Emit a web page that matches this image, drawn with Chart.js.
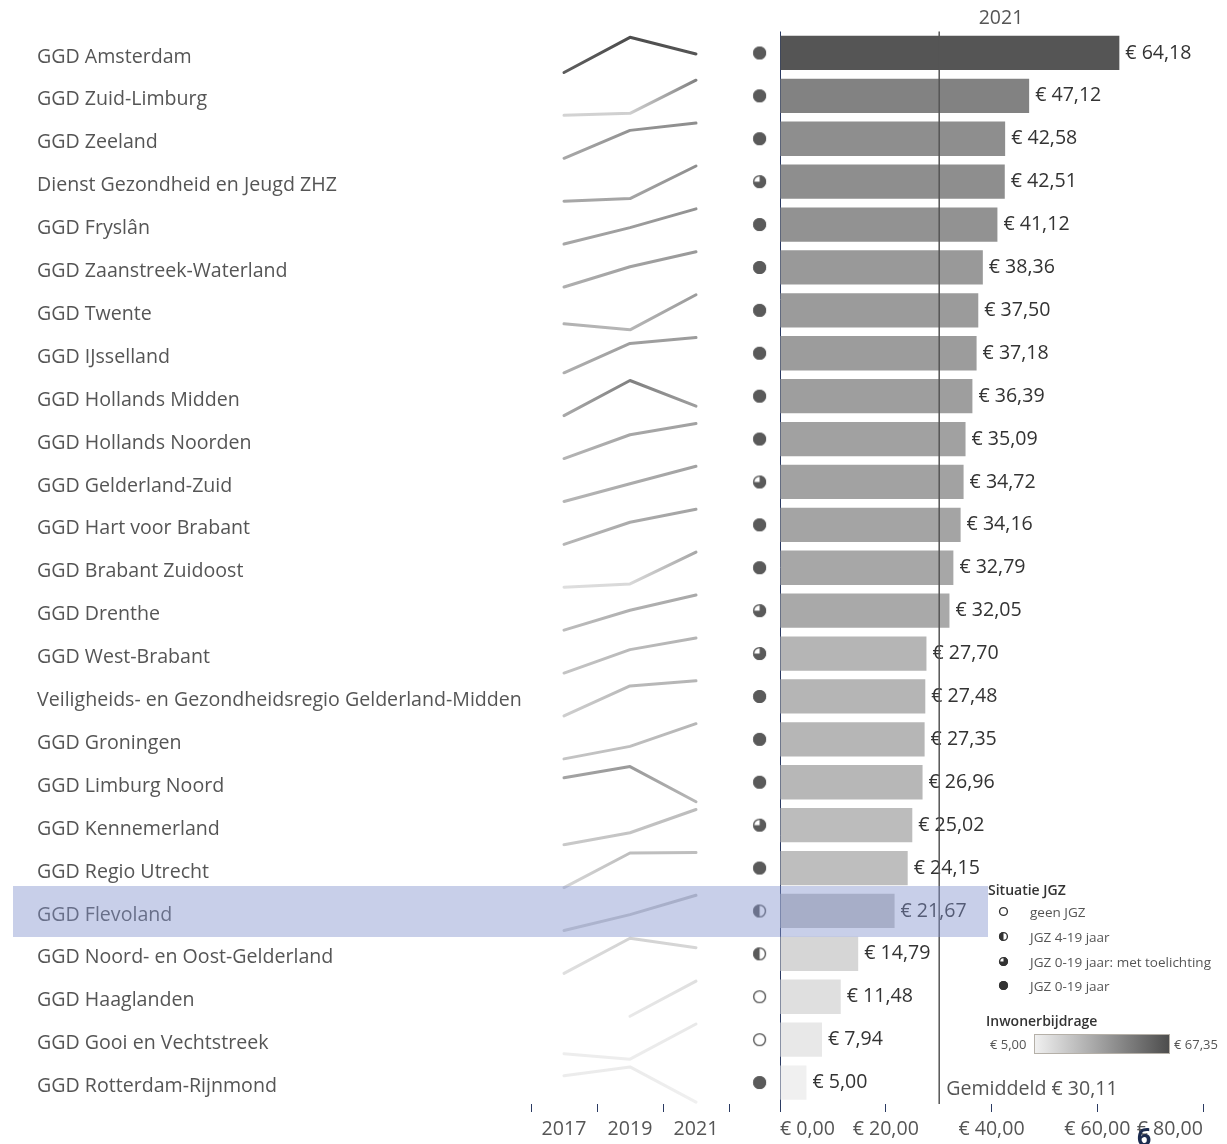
<!DOCTYPE html>
<html lang="nl">
<head>
<meta charset="utf-8">
<title>Inwonerbijdrage GGD 2021</title>
<script src="https://cdn.jsdelivr.net/npm/chart.js@4.4.1/dist/chart.umd.min.js"></script>
<style>
  html, body { margin:0; padding:0; background:#fff; overflow:hidden; }
  #wrap { position:relative; width:1227px; height:1144px; font-family:'Open Sans', sans-serif; color:#555; overflow:hidden; }
  #chart { position:absolute; left:0; top:0; }
  .abs { position:absolute; white-space:nowrap; }
  .lg-title { font-size:14px; font-weight:600; color:#333; line-height:18px; }
  .lg-item { font-size:13.5px; line-height:18px; color:#555; }
  .lg-item canvas { position:absolute; left:-33px; top:2px; }
  #highlight { background:rgba(130,146,205,0.44); }
</style>
</head>
<body>
<div id="wrap">
  <canvas id="chart" width="1227" height="1144"></canvas>
  <div class="abs" style="left:961px;top:5px;width:80px;text-align:center;font-size:19.5px;line-height:24px;">2021</div>
  <div id="legend"></div>
  <div class="abs" id="highlight" style="left:13px;top:886px;width:975px;height:51px;"></div>
  <div class="abs" style="left:1137px;top:1121px;font-size:25px;font-weight:700;color:#1c2b4f;line-height:30px;">6</div>
</div>
<script>
// ---- data -------------------------------------------------------------
const regions = [
  'GGD Amsterdam', 'GGD Zuid-Limburg', 'GGD Zeeland', 'Dienst Gezondheid en Jeugd ZHZ',
  'GGD Fryslân', 'GGD Zaanstreek-Waterland', 'GGD Twente', 'GGD IJsselland',
  'GGD Hollands Midden', 'GGD Hollands Noorden', 'GGD Gelderland-Zuid', 'GGD Hart voor Brabant',
  'GGD Brabant Zuidoost', 'GGD Drenthe', 'GGD West-Brabant',
  'Veiligheids- en Gezondheidsregio Gelderland-Midden', 'GGD Groningen', 'GGD Limburg Noord',
  'GGD Kennemerland', 'GGD Regio Utrecht', 'GGD Flevoland', 'GGD Noord- en Oost-Gelderland',
  'GGD Haaglanden', 'GGD Gooi en Vechtstreek', 'GGD Rotterdam-Rijnmond'
];
const bijdrage2021 = [64.18, 47.12, 42.58, 42.51, 41.12, 38.36, 37.50, 37.18, 36.39, 35.09, 34.72, 34.16,
  32.79, 32.05, 27.70, 27.48, 27.35, 26.96, 25.02, 24.15, 21.67, 14.79, 11.48, 7.94, 5.00];
// earlier years (shape + shade)
const bijdrage2017 = [60.66, 16.0, 33.0, 33.0, 33.0, 30.0, 28.8, 30.0, 32.1, 28.0, 27.0, 27.0,
  12.0, 25.0, 22.0, 18.0, 22.0, 34.5, 20.0, 15.0, 17.0, 11.5, null, 6.3, 6.5];
const bijdrage2019 = [67.35, 17.8, 40.6, 33.7, 36.8, 34.8, 27.0, 36.0, 48.0, 32.8, 30.9, 31.5,
  14.0, 29.0, 25.8, 26.1, 23.9, 38.0, 21.7, 24.0, 19.1, 16.0, 8.0, 6.0, 7.0];
const years = ['2017', '2019', '2021'];
// JGZ situation per region
const jgzSituatie = ['vol', 'vol', 'vol', 'toelichting', 'vol', 'vol', 'vol', 'vol', 'vol', 'vol',
  'toelichting', 'vol', 'vol', 'toelichting', 'toelichting', 'vol', 'vol', 'vol', 'toelichting', 'vol',
  'half', 'half', 'geen', 'geen', 'vol'];
const jgzLegend = [
  ['geen', 'geen JGZ'],
  ['half', 'JGZ 4-19 jaar'],
  ['toelichting', 'JGZ 0-19 jaar: met toelichting'],
  ['vol', 'JGZ 0-19 jaar']
];
const euroTicks = [0, 20, 40, 60, 80];
const gemiddeld = 30.11;
const kleurMin = 5.00, kleurMax = 67.35; // colour legend range

// ---- helpers ----------------------------------------------------------
function euro(v){ return '€ ' + v.toFixed(2).replace('.', ','); }

function grijs(v){
  const t = Math.max(0, Math.min(1, (v - kleurMin) / (kleurMax - kleurMin)));
  const g = Math.round(240 - t * (240 - 77));
  return `rgb(${g},${g},${g})`;
}

// small circle glyphs for "Situatie JGZ"
function makeIcon(kind, r, color){
  const s = Math.ceil(r * 2 + 4);
  const c = document.createElement('canvas');
  c.width = c.height = s;
  const g = c.getContext('2d');
  const cx = s / 2, cy = s / 2;
  g.fillStyle = '#fff';
  g.beginPath(); g.arc(cx, cy, r, 0, Math.PI * 2); g.fill();
  g.fillStyle = color;
  g.beginPath();
  if (kind === 'vol') g.arc(cx, cy, r, 0, Math.PI * 2);
  else if (kind === 'toelichting') { g.moveTo(cx, cy); g.arc(cx, cy, r, -Math.PI / 2, Math.PI); g.closePath(); }
  else if (kind === 'half') { g.moveTo(cx, cy); g.arc(cx, cy, r, Math.PI / 2, Math.PI * 1.5); g.closePath(); }
  if (kind !== 'geen') g.fill();
  g.strokeStyle = color; g.lineWidth = 1.4;
  g.beginPath(); g.arc(cx, cy, r - 0.6, 0, Math.PI * 2); g.stroke();
  return c;
}
const chartIcons = {};
['vol', 'toelichting', 'half', 'geen'].forEach(k => chartIcons[k] = makeIcon(k, 6.5, '#5a5a5a'));

// ---- legend (html) ------------------------------------------------------
function buildLegend(){
  const lg = document.getElementById('legend');
  let html = '<div class="abs lg-title" style="left:988px;top:881px;">Situatie JGZ</div>';
  const rows = [912, 937, 962, 986];
  jgzLegend.forEach((item, i) => {
    html += `<div class="abs lg-item" id="lg${i}" style="left:1030px;top:${rows[i] - 9}px;">${item[1]}</div>`;
  });
  html += '<div class="abs lg-title" style="left:986px;top:1012px;">Inwonerbijdrage</div>';
  html += `<div class="abs lg-item" style="left:990px;top:1035px;font-size:13px;">${euro(kleurMin)}</div>`;
  html += `<div class="abs" style="left:1034px;top:1034px;width:134px;height:18px;border:1px solid #b5b0a8;background:linear-gradient(to right, ${grijs(kleurMin)}, ${grijs(kleurMax)});"></div>`;
  html += `<div class="abs lg-item" style="left:1174px;top:1035px;font-size:13px;">${euro(kleurMax)}</div>`;
  lg.innerHTML = html;
  jgzLegend.forEach((item, i) => {
    const ic = makeIcon(item[0], 4.5, '#333');
    document.getElementById('lg' + i).appendChild(ic);
  });
}

// ---- chart ------------------------------------------------------------
const navy = '#2b3b63';
const fontPx = 19.6;

const labelPlugin = {
  id: 'labels',
  afterDatasetsDraw(chart){
    const {ctx, chartArea, scales} = chart;
    const meta = chart.getDatasetMeta(0);
    ctx.save();
    ctx.font = fontPx + 'px "Open Sans"';
    ctx.textBaseline = 'middle';
    ctx.textAlign = 'left';
    ctx.fillStyle = '#333';
    meta.data.forEach((bar, i) => ctx.fillText(euro(bijdrage2021[i]), bar.x + 6, bar.y));
    // average reference line
    const ax = scales.xBar.getPixelForValue(gemiddeld);
    ctx.strokeStyle = '#555';
    ctx.lineWidth = 1.5;
    ctx.beginPath(); ctx.moveTo(ax, chartArea.top); ctx.lineTo(ax, chartArea.bottom); ctx.stroke();
    ctx.fillStyle = '#555';
    ctx.fillText('Gemiddeld ' + euro(gemiddeld), ax + 7, chartArea.bottom - 15);
    ctx.restore();
  }
};

const rowScales = {};
const sparkSets = [];
regions.forEach((name, i) => {
  const vals = [bijdrage2017[i], bijdrage2019[i], bijdrage2021[i]];
  const known = vals.filter(v => v != null);
  const lo = Math.min(...known), hi = Math.max(...known), span = hi - lo;
  rowScales['r' + i] = {
    type: 'linear', position: 'right', stack: 'rows', stackWeight: 1,
    min: lo - span * 0.055, max: hi + span * 0.165,
    ticks: { display: false }, grid: { display: false, drawTicks: false }, border: { display: false }
  };
  sparkSets.push({
    type: 'line',
    data: vals,
    xAxisID: 'xYear',
    yAxisID: 'r' + i,
    borderWidth: 3,
    borderCapStyle: 'round',
    borderJoinStyle: 'round',
    pointRadius: 0,
    tension: 0,
    spanGaps: false,
    borderColor(c){
      const xs = c.chart.scales.xYear;
      if (!xs || xs.left === undefined) return grijs(bijdrage2021[i]);
      const x0 = xs.getPixelForValue(0), x2 = xs.getPixelForValue(2);
      const gr = c.chart.ctx.createLinearGradient(x0, 0, x2, 0);
      const first = vals[0] != null ? vals[0] : vals[1];
      gr.addColorStop(0, grijs(first));
      gr.addColorStop(0.5, grijs(vals[1]));
      gr.addColorStop(1, grijs(vals[2]));
      return gr;
    }
  });
});

function boot(){
  buildLegend();
  Chart.defaults.font.family = "'Open Sans', sans-serif";
  Chart.defaults.font.size = fontPx;
  Chart.defaults.color = '#555';

  new Chart(document.getElementById('chart'), {
    type: 'bar',
    data: {
      labels: regions,
      datasets: [
        {
          type: 'bar',
          indexAxis: 'y',
          data: bijdrage2021,
          xAxisID: 'xBar',
          yAxisID: 'y',
          grouped: false,
          backgroundColor: bijdrage2021.map(grijs),
          barPercentage: 0.8,
          categoryPercentage: 1.0
        },
        {
          type: 'scatter',
          data: regions.map(r => ({ x: 0, y: r })),
          xAxisID: 'xIcon',
          yAxisID: 'y',
          pointStyle: c => chartIcons[jgzSituatie[c.dataIndex]],
          pointRadius: 7
        },
        ...sparkSets
      ]
    },
    options: {
      responsive: false,
      animation: false,
      layout: { padding: { left: 37, top: 31.5, right: 24, bottom: 0 } },
      plugins: { legend: { display: false }, tooltip: { enabled: false } },
      scales: {
        y: {
          type: 'category', position: 'left', offset: true,
          grid: { display: false }, border: { display: false },
          ticks: { crossAlign: 'far', color: '#555', labelOffset: 4 },
          afterFit: s => { s.width = 494; }
        },
        xYear: {
          type: 'category', position: 'bottom', stack: 'cols', stackWeight: 198,
          labels: years, offset: true,
          grid: { display: true, drawOnChartArea: false, offset: true, tickLength: 8, tickColor: navy, color: navy },
          border: { display: false },
          ticks: { padding: 6, color: '#555', maxRotation: 0, minRotation: 0, autoSkip: false },
          afterFit: s => { s.paddingLeft = 0; s.paddingRight = 0; s.height = 40; }
        },
        xIcon: {
          type: 'linear', position: 'bottom', stack: 'cols', stackWeight: 51,
          min: -0.6, max: 0.4, offset: false,
          ticks: { display: false }, grid: { display: false, drawTicks: false, offset: false }, border: { display: false },
          afterFit: s => { s.paddingLeft = 0; s.paddingRight = 0; }
        },
        xBar: {
          type: 'linear', position: 'bottom', stack: 'cols', stackWeight: 423,
          min: euroTicks[0], max: euroTicks[euroTicks.length - 1], offset: false,
          grid: {
            offset: false,
            color: c => (c.tick && c.tick.value === 0) ? navy : 'rgba(0,0,0,0)',
            tickColor: navy, tickLength: 8, lineWidth: 1
          },
          border: { display: false },
          ticks: { stepSize: 20, padding: 6, align: 'inner', color: '#555', maxRotation: 0, minRotation: 0, autoSkip: false, callback: v => euro(v) },
          afterFit: s => { s.paddingLeft = 0; s.paddingRight = 0; s.height = 40; }
        },
        ...rowScales
      }
    },
    plugins: [labelPlugin]
  });
}

document.addEventListener('DOMContentLoaded', boot);
</script>
</body>
</html>
